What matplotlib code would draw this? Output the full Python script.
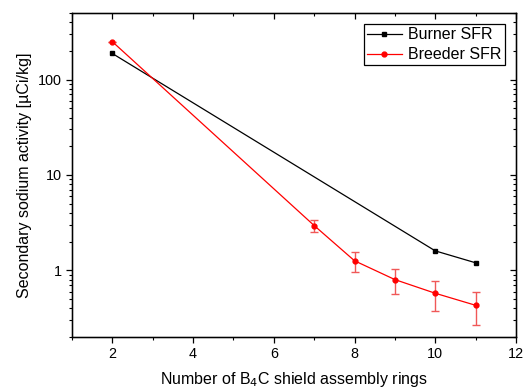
import matplotlib
matplotlib.use("Agg")
import matplotlib.pyplot as plt
from matplotlib.lines import Line2D
from matplotlib.ticker import LogLocator, FixedLocator, NullFormatter

plt.rcParams["font.family"] = ["Liberation Sans", "DejaVu Sans"]

# data
burner_x = [2, 10, 11]
burner_y = [188, 1.6, 1.2]

breeder_x = [2, 7, 8, 9, 10, 11]
breeder_y = [250, 2.95, 1.26, 0.80, 0.575, 0.43]
breeder_err = [0, 0.40, 0.31, 0.235, 0.20, 0.16]

fig = plt.figure(figsize=(5.24, 3.90), dpi=100)
ax = fig.add_axes([0.1374, 0.1359, 0.9847 - 0.1374, 0.9667 - 0.1359])

ax.plot(burner_x, burner_y, color="black", lw=0.9, marker="s", ms=3.5)
ax.errorbar(breeder_x, breeder_y, yerr=breeder_err, color="red", lw=0.9,
            marker="o", ms=3.5, ecolor="#f05858", elinewidth=1.0, capsize=3,
            capthick=1.0)

ax.set_yscale("log")
ax.set_xlim(1, 12)
ax.set_ylim(0.2, 500)
ax.set_xticks([2, 4, 6, 8, 10, 12])
ax.xaxis.set_minor_locator(FixedLocator([1, 3, 5, 7, 9, 11]))
ax.set_yticks([1, 10, 100])
ax.set_yticklabels(["1", "10", "100"])
ax.yaxis.set_minor_locator(LogLocator(base=10, subs=range(2, 10)))
ax.yaxis.set_minor_formatter(NullFormatter())

ax.tick_params(which="major", direction="out", length=4, width=0.9,
               labelsize=10.4, top=False, right=False)
ax.tick_params(which="minor", direction="out", length=2.5, width=0.8,
               top=False, right=False)
for s in ax.spines.values():
    s.set_linewidth(1.0)

# mirrored top/right ticks pointing inward
axt = ax.twiny()
axt.set_xlim(ax.get_xlim())
axt.set_xticks(ax.get_xticks())
axt.xaxis.set_minor_locator(FixedLocator([1, 3, 5, 7, 9, 11]))
axt.tick_params(which="major", direction="in", length=4, width=0.9, labeltop=False)
axt.tick_params(which="minor", direction="in", length=2.5, width=0.8)

axr = ax.twinx()
axr.set_yscale("log")
axr.set_ylim(ax.get_ylim())
axr.set_yticks([1, 10, 100])
axr.yaxis.set_minor_locator(LogLocator(base=10, subs=range(2, 10)))
axr.yaxis.set_minor_formatter(NullFormatter())
axr.tick_params(which="major", direction="in", length=4, width=0.9, labelright=False)
axr.tick_params(which="minor", direction="in", length=2.5, width=0.8)

ax.set_xlabel("Number of B$_4$C shield assembly rings", fontsize=11.5, labelpad=6)
ax.set_ylabel("Secondary sodium activity [\u00b5Ci/kg]", fontsize=11.5, labelpad=4)

handles = [
    Line2D([], [], color="black", lw=0.9, marker="s", ms=3.5),
    Line2D([], [], color="red", lw=0.9, marker="o", ms=3.5),
]
leg = axr.legend(handles, ["Burner SFR", "Breeder SFR"], loc="upper right",
                 fontsize=11.5, frameon=True, fancybox=False, edgecolor="black",
                 borderaxespad=0.7, handlelength=2.2, handletextpad=0.4,
                 borderpad=0.2, labelspacing=0.3, framealpha=1)
leg.get_frame().set_linewidth(0.9)

fig.savefig("out.png", dpi=100)
